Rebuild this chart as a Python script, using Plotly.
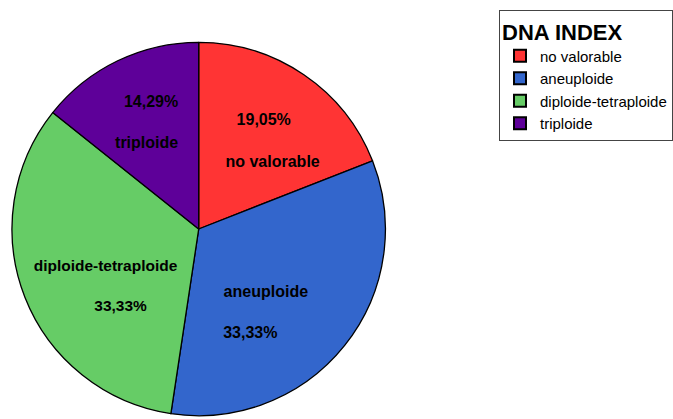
import plotly.graph_objects as go

categories = ["no valorable", "aneuploide", "diploide-tetraploide", "triploide"]
counts = [4, 7, 7, 3]
colors = ["#FF3434", "#3366CC", "#66CC66", "#5E0099"]
S = "\u00a0"
templates = [
    S + "<br>%{percent:.2%}" + S + "<br><br>" + S * 3 + "%{label}",
    S + "<br>" + S + "<br>%{label}" + S * 5 + "<br><br>%{percent:.2%}" + S * 12,
    S + "<br>" + S + "<br>%{label}<br><br>" + S * 7 + "%{percent:.2%}",
    S + "<br>" + S * 4 + "%{percent:.2%}<br><br>" + S * 2 + "%{label}",
]

W, H = 673, 419

fig = go.Figure(go.Pie(
    labels=categories,
    values=counts,
    sort=False,
    direction="clockwise",
    rotation=0,
    marker=dict(colors=colors, line=dict(color="black", width=1.3)),
    texttemplate=templates,
    textposition="inside",
    insidetextorientation="horizontal",
    insidetextfont=dict(family="Liberation Sans", size=16, color="black", weight="bold"),
    domain=dict(x=[12 / W, 386 / W], y=[1 - 416 / H, 1 - 42 / H]),
    hoverinfo="label+percent",
))

fig.update_layout(
    width=W, height=H,
    margin=dict(l=0, r=0, t=0, b=0),
    paper_bgcolor="white",
    separators=",.",
    font=dict(family="Liberation Sans", color="black"),
    legend=dict(
        x=500 / W, y=1 - 10 / H, xanchor="left", yanchor="top",
        bordercolor="#444444", borderwidth=1,
        bgcolor="white",
        title=dict(text="<b>DNA INDEX</b>", font=dict(size=22, family="Liberation Sans")),
        font=dict(size=15, family="Liberation Sans"),
        itemsizing="constant",
        tracegroupgap=0,
    ),
    showlegend=True,
)

fig.write_html("out.html", config={"displayModeBar": False},
               post_script="document.body.style.margin='0';")
